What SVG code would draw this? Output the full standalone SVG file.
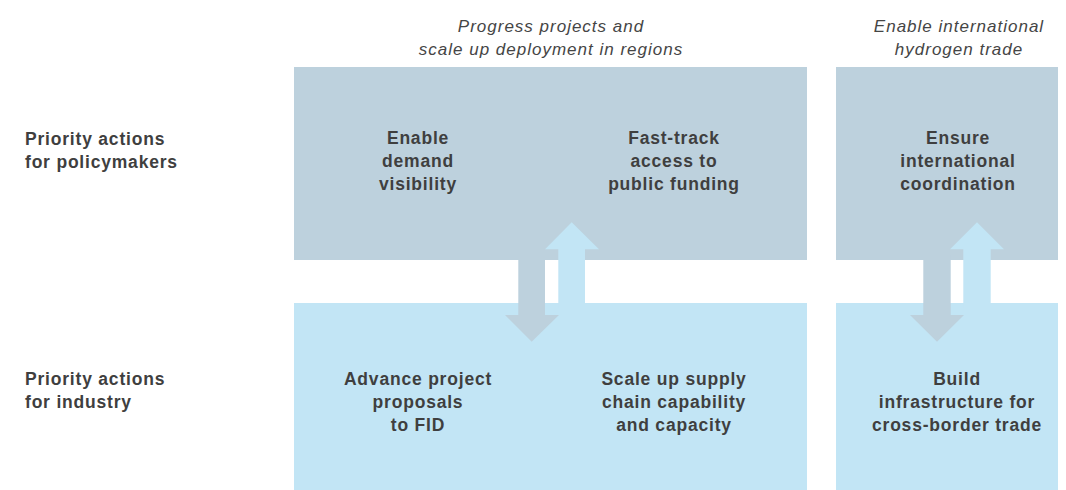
<svg xmlns="http://www.w3.org/2000/svg" width="1066" height="490" viewBox="0 0 1066 490">
<style>
.hdr{font-family:"Liberation Sans",Arial,sans-serif;font-size:17px;font-style:italic;letter-spacing:1px;fill:#454545;text-anchor:middle}
.lbl{font-family:"Liberation Sans",Arial,sans-serif;font-size:17.5px;font-weight:bold;letter-spacing:0.8px;fill:#3f3f3f}
.nt{font-family:"Liberation Sans",Arial,sans-serif;font-size:17.5px;font-weight:bold;letter-spacing:0.8px;fill:#3f3f3f;text-anchor:middle}
.pol{fill:#bdd1dd}
.ind{fill:#c2e5f5}
</style>
<rect width="1066" height="490" fill="#ffffff"/>
<g id="headers">
<text class="hdr" x="551" y="31.5">Progress projects and</text>
<text class="hdr" x="551" y="55">scale up deployment in regions</text>
<text class="hdr" x="959" y="31.5">Enable international</text>
<text class="hdr" x="959" y="55">hydrogen trade</text>
</g>
<g id="row-labels">
<text class="lbl" x="25" y="145">Priority actions</text>
<text class="lbl" x="25" y="168">for policymakers</text>
<text class="lbl" x="25" y="385">Priority actions</text>
<text class="lbl" x="25" y="408">for industry</text>
</g>
<g id="box-pol-regions"><rect class="pol" x="294" y="67" width="513" height="193"/></g>
<g id="box-pol-trade"><rect class="pol" x="836" y="67" width="222" height="193"/></g>
<g id="box-ind-regions"><rect class="ind" x="294" y="303" width="513" height="187"/></g>
<g id="box-ind-trade"><rect class="ind" x="836" y="303" width="222" height="187"/></g>
<g id="connectors">
<polygon class="pol" points="518.3,255 545,255 545,315 559,315 531.7,341.7 505,315 518.3,315"/>
<polygon class="ind" points="558.3,308 585,308 585,249.3 599,249.3 571.7,222.3 545,249.3 558.3,249.3"/>
<polygon class="pol" points="923.3,255 950.7,255 950.7,315 964,315 937,341.7 910,315 923.3,315"/>
<polygon class="ind" points="963.3,308 990.7,308 990.7,249.3 1004,249.3 977,222.3 950,249.3 963.3,249.3"/>
</g>
<g id="node-demand">
<text class="nt" x="418" y="144">Enable</text>
<text class="nt" x="418" y="167">demand</text>
<text class="nt" x="418" y="190">visibility</text>
</g>
<g id="node-funding">
<text class="nt" x="674" y="144">Fast-track</text>
<text class="nt" x="674" y="167">access to</text>
<text class="nt" x="674" y="190">public funding</text>
</g>
<g id="node-coordination">
<text class="nt" x="958" y="144">Ensure</text>
<text class="nt" x="958" y="167">international</text>
<text class="nt" x="958" y="190">coordination</text>
</g>
<g id="node-proposals">
<text class="nt" x="418" y="385">Advance project</text>
<text class="nt" x="418" y="408">proposals</text>
<text class="nt" x="418" y="431">to FID</text>
</g>
<g id="node-supply">
<text class="nt" x="674" y="385">Scale up supply</text>
<text class="nt" x="674" y="408">chain capability</text>
<text class="nt" x="674" y="431">and capacity</text>
</g>
<g id="node-infra">
<text class="nt" x="957" y="385">Build</text>
<text class="nt" x="957" y="408">infrastructure for</text>
<text class="nt" x="957" y="431">cross-border trade</text>
</g>
</svg>
